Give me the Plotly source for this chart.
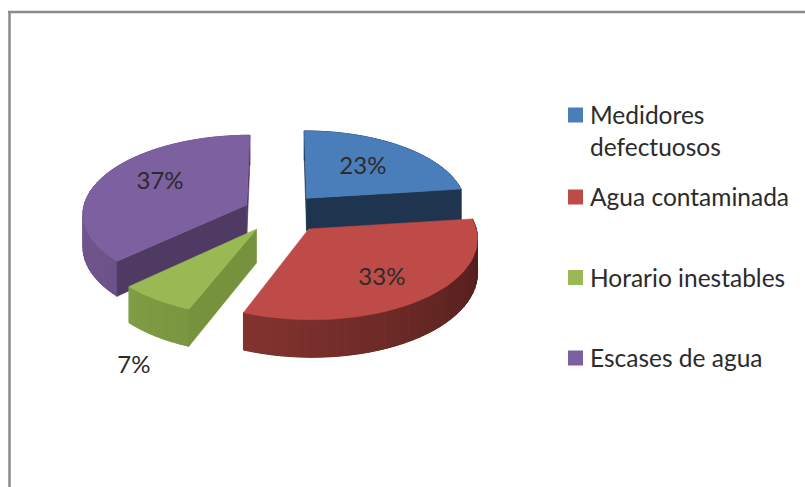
import math
import plotly.graph_objects as go

# ---- data ----
categories = ["Medidores<br>defectuosos", "Agua contaminada", "Horario inestables", "Escases de agua"]
values = [23, 33, 7, 37]
value_labels = ["23%", "33%", "7%", "37%"]

# ---- styles ----
top_colors = ["#4a7ebb", "#be4b48", "#98b954", "#7d60a0"]
face_colors = ["#1f344f", "#4f1e1c", "#76923c", "#4f3a63"]
side_start = ["#2c4d74", "#4a1c1a", "#7a9640", "#6d5389"]
side_end = ["#2c4d74", "#83332f", "#7f9d45", "#7a5e9c"]
explode = [0.24, 0.27, 0.26, 0.23]
radius = [0.98, 1.0, 0.96, 1.0]
draw_order = [3, 0, 2, 1]
label_radius = [0.56, 0.66, 1.15, 0.60]
label_drop = [0, 5, 46, -4]
FONT = "Lato"
TEXT = "#2b2b2b"

# projection of the tilted pie
CX, CY, RX, RY, K, DEPTH = 281, 212, 164, 78, 0.10, 33


def project(X, Y, drop=0.0):
    w = 1 + K * Y
    return CX + RX * X / w, CY - RY * Y / w + drop / w


def mix(a, b, t):
    ca = [int(a[i:i + 2], 16) for i in (1, 3, 5)]
    cb = [int(b[i:i + 2], 16) for i in (1, 3, 5)]
    return "#%02x%02x%02x" % tuple(round(p + (q - p) * t) for p, q in zip(ca, cb))


def poly(fig, pts, color, width=0.6):
    fig.add_trace(go.Scatter(
        x=[p[0] for p in pts] + [pts[0][0]],
        y=[p[1] for p in pts] + [pts[0][1]],
        mode="lines", fill="toself", fillcolor=color,
        line=dict(color=color, width=width),
        hoverinfo="skip", showlegend=False))


fig = go.Figure()
total = sum(values)
bounds = []
acc = 0.0
for v in values:
    bounds.append((acc / total * 2 * math.pi, (acc + v) / total * 2 * math.pi))
    acc += v


def slice_point(i, r, theta, drop=0.0):
    mid = sum(bounds[i]) / 2
    X = explode[i] * math.sin(mid) + r * math.sin(theta)
    Y = explode[i] * math.cos(mid) + r * math.cos(theta)
    return project(X, Y, drop)


for i in draw_order:
    a0, a1 = bounds[i]
    R = radius[i]
    n = max(4, int((a1 - a0) / math.radians(3)))
    angles = [a0 + (a1 - a0) * k / n for k in range(n + 1)]
    # curved side, in bands, over a solid base so no seams show
    poly(fig, [slice_point(i, R, a) for a in angles] +
         [slice_point(i, R, a, DEPTH) for a in reversed(angles)],
         mix(side_start[i], side_end[i], 0.5), 0.3)
    for k in range(n):
        t = k / max(1, n - 1)
        col = mix(side_start[i], side_end[i], t)
        poly(fig, [slice_point(i, R, angles[k]), slice_point(i, R, angles[k + 1]),
                   slice_point(i, R, angles[k + 1], DEPTH), slice_point(i, R, angles[k], DEPTH)], col, 1)
    # straight faces that look towards the viewer
    apex = slice_point(i, 0, 0)
    midp = slice_point(i, R, (a0 + a1) / 2)
    for ang in (a0, a1):
        rim = slice_point(i, R, ang)
        ex, ey = rim[0] - apex[0], rim[1] - apex[1]
        inner = ex * (midp[1] - apex[1]) - ey * (midp[0] - apex[0])
        down = ex
        if inner * down < 0:
            poly(fig, [apex, rim, slice_point(i, R, ang, DEPTH), slice_point(i, 0, 0, DEPTH)], face_colors[i])
    # top
    poly(fig, [apex] + [slice_point(i, R, a) for a in angles], top_colors[i])

# value labels
for i, lab in enumerate(value_labels):
    x, y = slice_point(i, label_radius[i], sum(bounds[i]) / 2, label_drop[i])
    fig.add_trace(go.Scatter(x=[x], y=[y], mode="text", text=[lab], textposition="middle center",
                             textfont=dict(family=FONT, size=24, color=TEXT),
                             hoverinfo="skip", showlegend=False))

# legend
LEG_X = 575.5
LEG_Y = [115, 197, 277.5, 358]
for i, name in enumerate(categories):
    fig.add_trace(go.Scatter(x=[LEG_X], y=[LEG_Y[i]], mode="markers",
                             marker=dict(symbol="square", size=15, color=top_colors[i]),
                             hoverinfo="skip", showlegend=False))
    fig.add_annotation(x=590, y=LEG_Y[i] - 15, text=name, xref="x", yref="y", showarrow=False,
                       xanchor="left", yanchor="top", align="left", borderpad=0, borderwidth=0,
                       font=dict(family=FONT, size=24.5, color=TEXT))

fig.update_layout(
    width=805, height=487, autosize=False,
    margin=dict(l=0, r=0, t=0, b=0),
    paper_bgcolor="white", plot_bgcolor="white",
    xaxis=dict(range=[0, 805], visible=False, fixedrange=True),
    yaxis=dict(range=[487, 0], visible=False, fixedrange=True),
    shapes=[
        dict(type="line", xref="x", yref="y", x0=9.5, y0=12, x1=9.5, y1=487, line=dict(color="#8a8a8a", width=2.5)),
        dict(type="line", xref="x", yref="y", x0=8, y0=12, x1=805, y1=12, line=dict(color="#8a8a8a", width=2.5)),
    ],
)
fig.write_html("out.html", config={"displayModeBar": False},
               post_script="document.body.style.margin='0';")
